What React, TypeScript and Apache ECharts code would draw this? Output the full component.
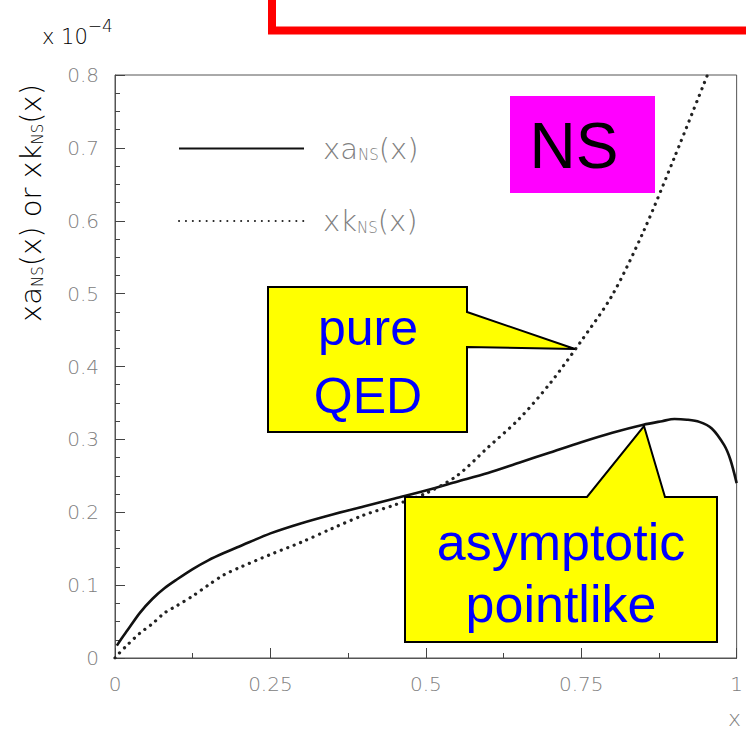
import React, { useEffect, useRef } from 'react';
import * as echarts from 'echarts';

// xa_NS(x) (solid)
const xA = [0.003, 0.01, 0.02, 0.04, 0.06, 0.08, 0.1, 0.125, 0.15, 0.175, 0.2, 0.25, 0.3, 0.35, 0.4, 0.45, 0.5, 0.55, 0.6, 0.65, 0.7, 0.75, 0.8, 0.85, 0.88, 0.9, 0.92, 0.94, 0.96, 0.98, 0.99, 1.0];
const yA = [0.017, 0.026, 0.038, 0.062, 0.081, 0.096, 0.108, 0.122, 0.134, 0.144, 0.153, 0.171, 0.185, 0.197, 0.208, 0.219, 0.23, 0.242, 0.254, 0.268, 0.282, 0.296, 0.309, 0.32, 0.325, 0.328, 0.327, 0.324, 0.315, 0.292, 0.272, 0.24];
// xk_NS(x) (dotted)
const xK = [0, 0.005, 0.02, 0.04, 0.06, 0.08, 0.1, 0.125, 0.15, 0.175, 0.2, 0.25, 0.3, 0.35, 0.4, 0.45, 0.5, 0.55, 0.6, 0.65, 0.7, 0.75, 0.8, 0.85, 0.9, 0.953];
const yK = [0, 0.005, 0.018, 0.034, 0.047, 0.062, 0.072, 0.085, 0.1, 0.114, 0.124, 0.142, 0.159, 0.178, 0.196, 0.21, 0.226, 0.25, 0.289, 0.328, 0.377, 0.435, 0.498, 0.585, 0.687, 0.8];

const seriesNames = ['xa_NS(x)', 'xk_NS(x)'];
const legendLabels: Record<string, string> = {
  'xa_NS(x)': '{t|xa}{s|NS}{t|(x)}',
  'xk_NS(x)': '{t|xk}{s|NS}{t|(x)}',
};
const yAxisTitle = '{t|xa}{s|NS}{t|(x) or xk}{s|NS}{t|(x)}';
const xAxisTitle = 'x';
const scaleNote = '{t|x 10}{p|−4}';
const calloutQED = ['pure', 'QED'];
const calloutAsym = ['asymptotic', 'pointlike'];
const tagText = 'NS';

const GRAY = '#808080';
const FONT = 'DejaVu Sans';

const richGray = {
  t: { fontSize: 29, color: GRAY, fontFamily: FONT, fontWeight: 200, lineHeight: 36 },
  s: { fontSize: 15, color: GRAY, fontFamily: FONT, fontWeight: 200, lineHeight: 15, verticalAlign: 'bottom', padding: [0, 0, 4, 0] },
};

export default function App() {
  const ref = useRef<HTMLDivElement>(null);
  useEffect(() => {
    const chart = echarts.init(ref.current!, null, { renderer: 'svg' });
    const sans = 'Liberation Sans';
    const option: any = {
      animation: false,
      backgroundColor: '#ffffff',
      grid: { left: 115, top: 75, width: 627, height: 583, show: true, borderColor: '#555', borderWidth: 1, backgroundColor: 'transparent' },
      xAxis: {
        type: 'value', min: 0, max: 1, interval: 0.25,
        axisLine: { show: true, lineStyle: { color: '#555', width: 1 } },
        axisTick: { show: true, inside: true, length: 10, lineStyle: { color: '#444', width: 1 } },
        minorTick: { show: true, splitNumber: 2, length: 5, lineStyle: { color: '#444', width: 1 } },
        splitLine: { show: false },
        axisLabel: { color: GRAY, fontSize: 20, fontFamily: FONT, fontWeight: 200, margin: 16 },
      },
      yAxis: {
        type: 'value', min: 0, max: 0.8, interval: 0.1,
        axisLine: { show: true, lineStyle: { color: '#555', width: 1 } },
        axisTick: { show: true, inside: true, length: 10, lineStyle: { color: '#444', width: 1 } },
        minorTick: { show: true, splitNumber: 4, length: 5, lineStyle: { color: '#444', width: 1 } },
        splitLine: { show: false },
        axisLabel: { color: GRAY, fontSize: 20, fontFamily: FONT, fontWeight: 200, margin: 16 },
      },
      legend: {
        show: true,
        orient: 'vertical',
        left: 178, top: 134, padding: 0,
        itemWidth: 125, itemHeight: 30, itemGap: 40,
        data: seriesNames,
        itemStyle: { opacity: 0 },
        formatter: (n: string) => legendLabels[n],
        textStyle: { rich: richGray, padding: [0, 0, 0, 14] },
      },
      series: [
        {
          name: seriesNames[0], type: 'line', showSymbol: false, symbol: 'none', smooth: 0.3,
          data: xA.map((x, i) => [x, yA[i]]),
          lineStyle: { color: '#111', width: 2.6 },
          itemStyle: { color: '#111' },
          z: 3,
        },
        {
          name: seriesNames[1], type: 'line', showSymbol: false, symbol: 'none', smooth: 0.3,
          data: xK.map((x, i) => [x, yK[i]]),
          lineStyle: { color: '#222', width: 3.2, type: [0.1, 6.8], cap: 'round' },
          itemStyle: { color: '#222' },
          z: 3,
        },
      ],
      graphic: [
        { type: 'rect', z: 100, shape: { x: 272, y: -30, width: 600, height: 60.5 }, style: { fill: 'none', stroke: '#ff0000', lineWidth: 8 } },
        { type: 'text', z: 100, x: 42, y: 17, style: { text: scaleNote, rich: {
          t: { fontSize: 21, color: GRAY, fontFamily: FONT, fontWeight: 200, lineHeight: 30, verticalAlign: 'bottom' },
          p: { fontSize: 17, color: GRAY, fontFamily: FONT, fontWeight: 200, lineHeight: 16, verticalAlign: 'top' },
        } } },
        { type: 'text', z: 100, x: 31, y: 203, rotation: Math.PI / 2, style: { text: yAxisTitle, rich: richGray, align: 'center', verticalAlign: 'middle' } },
        { type: 'text', z: 100, x: 741, y: 718, style: { text: xAxisTitle, fontSize: 22, fill: GRAY, fontFamily: FONT, fontWeight: 200, align: 'right', verticalAlign: 'middle' } },
        { type: 'rect', z: 100, shape: { x: 510, y: 96, width: 145, height: 97 }, style: { fill: '#ff00ff' } },
        { type: 'text', z: 101, x: 574, y: 146, style: { text: tagText, fontSize: 64, fill: '#000', fontFamily: sans, align: 'center', verticalAlign: 'middle' } },
        { type: 'polygon', z: 100, shape: { points: [[268, 287], [467, 287], [467, 312], [575, 349], [467, 347], [467, 432], [268, 432]] }, style: { fill: '#ffff00', stroke: '#000', lineWidth: 2 } },
        { type: 'text', z: 101, x: 368, y: 328, style: { text: calloutQED[0], fontSize: 50, fill: '#0000ff', fontFamily: sans, align: 'center', verticalAlign: 'middle' } },
        { type: 'text', z: 101, x: 368, y: 396, style: { text: calloutQED[1], fontSize: 50, fill: '#0000ff', fontFamily: sans, align: 'center', verticalAlign: 'middle' } },
        { type: 'polygon', z: 100, shape: { points: [[405, 497], [587, 497], [644, 426], [665, 497], [717, 497], [717, 642], [405, 642]] }, style: { fill: '#ffff00', stroke: '#000', lineWidth: 2 } },
        { type: 'text', z: 101, x: 561, y: 542, style: { text: calloutAsym[0], fontSize: 52, fill: '#0000ff', fontFamily: sans, align: 'center', verticalAlign: 'middle' } },
        { type: 'text', z: 101, x: 561, y: 604, style: { text: calloutAsym[1], fontSize: 52, fill: '#0000ff', fontFamily: sans, align: 'center', verticalAlign: 'middle' } },
      ],
    };
    chart.setOption(option);
    return () => chart.dispose();
  }, []);
  return <div ref={ref} style={{ position: 'fixed', left: 0, top: 0, width: 746, height: 733, background: '#fff' }} />;
}
